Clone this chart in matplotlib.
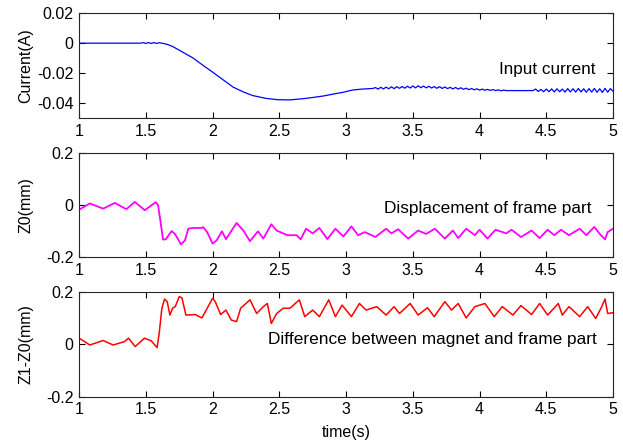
import matplotlib.pyplot as plt

plt.rcParams['font.family'] = ['Liberation Sans', 'DejaVu Sans']
plt.rcParams['axes.unicode_minus'] = False

# input current (A)
current_t = [1.0, 1.1, 1.2, 1.3, 1.4, 1.46, 1.48, 1.50, 1.52, 1.54, 1.56, 1.58, 1.60, 1.62,
             1.66, 1.70, 1.755, 1.80, 1.85, 1.93, 2.0, 2.08, 2.154, 2.23, 2.30, 2.40, 2.49,
             2.58, 2.68, 2.75, 2.83, 2.90, 2.98, 3.05, 3.12, 3.20,
             3.22, 3.24, 3.26, 3.28, 3.30, 3.32, 3.34, 3.36, 3.38, 3.40, 3.42, 3.44, 3.46,
             3.48, 3.50, 3.52, 3.54, 3.56, 3.58, 3.60, 3.62, 3.64, 3.66, 3.68, 3.70, 3.72,
             3.74, 3.76, 3.78, 3.80, 3.82, 3.84, 3.86, 3.88, 3.90, 3.92, 3.94, 3.96, 3.98,
             4.00, 4.02, 4.04, 4.06, 4.08, 4.10, 4.12, 4.14, 4.16, 4.18, 4.20, 4.40,
             4.42, 4.44, 4.46, 4.48, 4.50, 4.52, 4.54, 4.56, 4.58, 4.60, 4.62, 4.64, 4.66,
             4.68, 4.70, 4.72, 4.74, 4.76, 4.78, 4.80, 4.82, 4.84, 4.86, 4.88, 4.90, 4.92,
             4.94, 4.96, 4.98, 5.00]
current_v = [0, 0, 0, 0, 0, 0, 0.0004, -0.0002, 0.0004, -0.0002, 0.0004, -0.0002, 0.0003, 0,
             -0.0008, -0.0022, -0.0049, -0.0072, -0.0097, -0.0149, -0.0193, -0.0245, -0.0293,
             -0.0325, -0.0349, -0.0368, -0.0377, -0.0378, -0.0370, -0.0362, -0.0352, -0.0340,
             -0.0327, -0.0312, -0.0306, -0.0302,
             -0.0296, -0.0306, -0.0294, -0.0305, -0.0293, -0.0304, -0.0291, -0.0303, -0.0290,
             -0.0301, -0.0289, -0.0300, -0.0287, -0.0299, -0.0285, -0.0298, -0.0284, -0.0297,
             -0.0286, -0.0298, -0.0287, -0.0299, -0.0289, -0.0301, -0.0290, -0.0302, -0.0292,
             -0.0303, -0.0294, -0.0305, -0.0295, -0.0306, -0.0297, -0.0308, -0.0300, -0.0310,
             -0.0302, -0.0311, -0.0304, -0.0313, -0.0306, -0.0314, -0.0308, -0.0315, -0.0309,
             -0.0316, -0.0311, -0.0317, -0.0313, -0.0316, -0.0316,
             -0.0306, -0.0322, -0.0308, -0.0324, -0.0306, -0.0323, -0.0305, -0.0325, -0.0304,
             -0.0324, -0.0306, -0.0326, -0.0303, -0.0325, -0.0304, -0.0326, -0.0302, -0.0325,
             -0.0304, -0.0327, -0.0303, -0.0326, -0.0302, -0.0327, -0.0304, -0.0328, -0.0301,
             -0.0327, -0.0303, -0.0320]

# frame displacement Z0 (mm)
z0_t = [1.0, 1.08, 1.18, 1.267, 1.354, 1.417, 1.492, 1.574, 1.592, 1.629, 1.65, 1.693, 1.718,
        1.763, 1.793, 1.818, 1.855, 1.92, 1.93, 1.96, 2.0, 2.03, 2.07, 2.10, 2.18, 2.23, 2.28,
        2.34, 2.38, 2.44, 2.48, 2.56, 2.63, 2.66, 2.70, 2.75, 2.80, 2.86, 2.92, 2.98, 3.04,
        3.09, 3.14, 3.22, 3.30, 3.34, 3.39, 3.465, 3.54, 3.60, 3.665, 3.74, 3.80, 3.84, 3.90,
        3.965, 4.0, 4.06, 4.12, 4.20, 4.24, 4.31, 4.39, 4.45, 4.51, 4.56, 4.61, 4.67, 4.75,
        4.80, 4.86, 4.90, 4.94, 4.96, 5.0]
z0_v = [-0.017, 0.007, -0.013, 0.009, -0.015, 0.013, -0.019, 0.012, 0.0, -0.132, -0.13,
        -0.099, -0.11, -0.15, -0.135, -0.09, -0.087, -0.087, -0.084, -0.104, -0.147, -0.135,
        -0.10, -0.13, -0.068, -0.097, -0.138, -0.10, -0.128, -0.073, -0.097, -0.115, -0.115,
        -0.131, -0.09, -0.108, -0.087, -0.13, -0.09, -0.12, -0.081, -0.115, -0.103, -0.122,
        -0.09, -0.108, -0.092, -0.128, -0.097, -0.11, -0.09, -0.128, -0.097, -0.126, -0.09,
        -0.115, -0.094, -0.128, -0.094, -0.108, -0.094, -0.122, -0.097, -0.126, -0.094,
        -0.115, -0.094, -0.115, -0.09, -0.115, -0.083, -0.11, -0.131, -0.103, -0.09]

# difference between magnet and frame Z1-Z0 (mm)
dz_t = [1.0, 1.08, 1.18, 1.255, 1.34, 1.37, 1.42, 1.49, 1.54, 1.584, 1.60, 1.62, 1.64, 1.66,
        1.68, 1.70, 1.72, 1.75, 1.77, 1.80, 1.87, 1.92, 2.0, 2.02, 2.06, 2.10, 2.14, 2.18,
        2.21, 2.28, 2.33, 2.38, 2.41, 2.44, 2.48, 2.53, 2.58, 2.65, 2.69, 2.75, 2.80, 2.87,
        2.92, 2.97, 3.04, 3.10, 3.15, 3.23, 3.30, 3.36, 3.40, 3.48, 3.54, 3.61, 3.66, 3.74,
        3.79, 3.84, 3.90, 3.965, 4.04, 4.11, 4.17, 4.25, 4.31, 4.39, 4.45, 4.51, 4.59, 4.62,
        4.67, 4.75, 4.81, 4.87, 4.91, 4.94, 4.96, 5.0]
dz_v = [0.023, -0.003, 0.014, -0.003, 0.01, 0.023, -0.009, 0.023, 0.013, -0.013, 0.042,
        0.137, 0.172, 0.162, 0.111, 0.137, 0.143, 0.181, 0.177, 0.111, 0.113, 0.10, 0.175,
        0.162, 0.113, 0.13, 0.092, 0.086, 0.137, 0.169, 0.117, 0.143, 0.155, 0.079, 0.117,
        0.137, 0.137, 0.169, 0.105, 0.13, 0.105, 0.169, 0.105, 0.149, 0.105, 0.155, 0.13,
        0.143, 0.111, 0.143, 0.117, 0.155, 0.111, 0.139, 0.105, 0.162, 0.13, 0.155, 0.10,
        0.143, 0.155, 0.105, 0.143, 0.111, 0.147, 0.113, 0.155, 0.111, 0.155, 0.111, 0.143,
        0.105, 0.143, 0.098, 0.137, 0.172, 0.117, 0.12]

x_ticks = [1, 1.5, 2, 2.5, 3, 3.5, 4, 4.5, 5]
x_tick_labels = ['1', '1.5', '2', '2.5', '3', '3.5', '4', '4.5', '5']

fig = plt.figure(figsize=(6.23, 4.46), dpi=100)
ax1 = fig.add_axes([0.127, 0.735, 0.857, 0.2355])
ax2 = fig.add_axes([0.127, 0.423, 0.857, 0.2335])
ax3 = fig.add_axes([0.127, 0.1105, 0.857, 0.2355])

ax1.plot(current_t, current_v, color='#0000ff', lw=0.9)
ax1.set_ylim(-0.05, 0.02)
ax1.set_yticks([-0.04, -0.02, 0, 0.02])
ax1.set_yticklabels(['-0.04', '-0.02', '0', '0.02'])
ax1.set_ylabel('Current(A)')
ax1.text(4.87, -0.0175, 'Input current', ha='right', va='center', fontsize=12.3)

ax2.plot(z0_t, z0_v, color='#ff00ff', lw=1.3)
ax2.set_ylim(-0.2, 0.2)
ax2.set_yticks([-0.2, 0, 0.2])
ax2.set_yticklabels(['-0.2', '0', '0.2'])
ax2.set_ylabel('Z0(mm)')
ax2.text(4.84, -0.013, 'Displacement of frame part', ha='right', va='center', fontsize=12.4)

ax3.plot(dz_t, dz_v, color='#ff0000', lw=1.1)
ax3.set_ylim(-0.2, 0.2)
ax3.set_yticks([-0.2, 0, 0.2])
ax3.set_yticklabels(['-0.2', '0', '0.2'])
ax3.set_ylabel('Z1-Z0(mm)')
ax3.set_xlabel('time(s)', fontsize=11.5)
ax3.xaxis.set_label_coords(0.5, -0.27)
ax3.text(4.875, 0.019, 'Difference between magnet and frame part', ha='right', va='center',
         fontsize=12.4)

for ax in (ax1, ax2, ax3):
    ax.set_xlim(1, 5)
    ax.set_xticks(x_ticks)
    ax.set_xticklabels(x_tick_labels)
    ax.tick_params(direction='in', top=True, right=True, length=4, width=0.8,
                   labelsize=11.5, pad=4)
    ax.yaxis.label.set_size(11.5)
    ax.yaxis.set_label_coords(-0.085, 0.5)
    for s in ax.spines.values():
        s.set_linewidth(0.8)
        s.set_color('#262626')

plt.savefig('out.png', dpi=100)
